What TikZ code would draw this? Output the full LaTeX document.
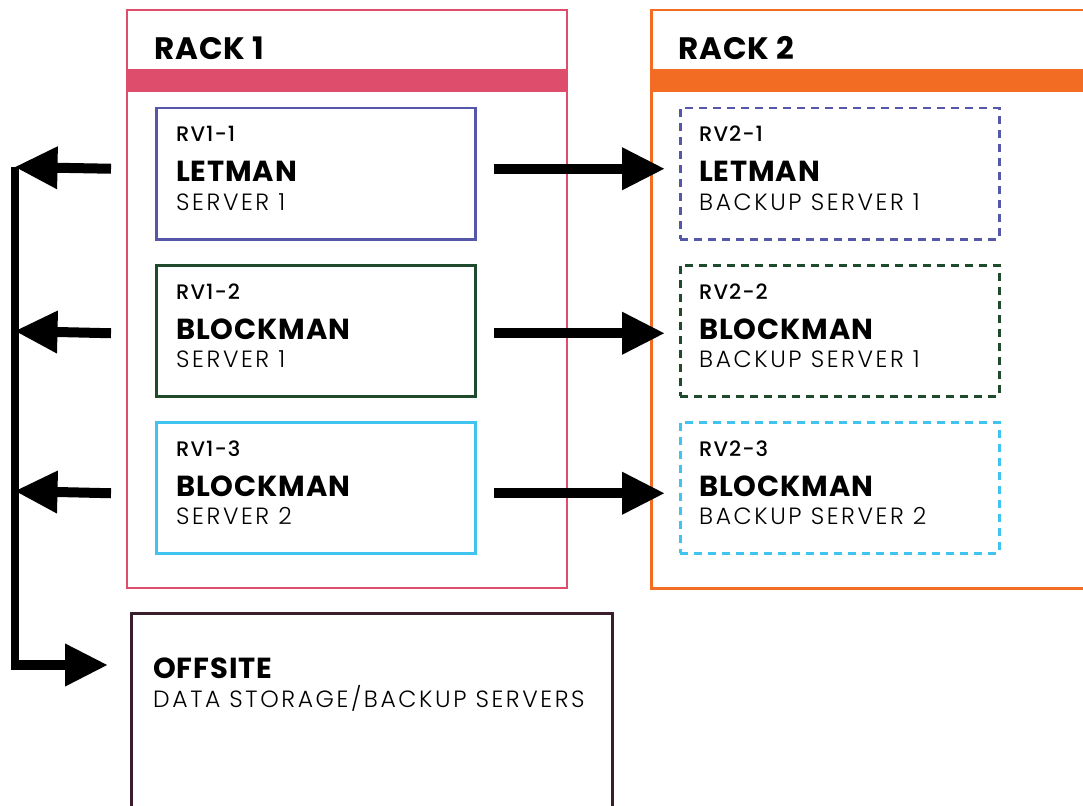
\documentclass[tikz,border=0pt]{standalone}
\usepackage{fontspec}
\setmainfont{Poppins}
\newfontfamily\boldf[LetterSpace=3]{Poppins Bold}
\newfontfamily\medf[LetterSpace=5]{Poppins Medium}
\newfontfamily\lightf[LetterSpace=11]{Poppins Light}
\usetikzlibrary{arrows.meta,calc}

\definecolor{rackpink}{HTML}{DE4D6C}
\definecolor{rackorange}{HTML}{F26C24}
\definecolor{srvblue}{HTML}{5558A8}
\definecolor{srvgreen}{HTML}{1F4A2B}
\definecolor{srvcyan}{HTML}{41C3EF}
\definecolor{offsitec}{HTML}{3A1E2E}

\tikzset{
  rackbox/.style={draw, line width=2.5pt, inner sep=0pt, anchor=north west},
  rackband/.style={fill, inner sep=0pt, anchor=north west, minimum height=23pt},
  srvbox/.style={draw, line width=2.5pt, inner sep=0pt, anchor=north west,
                 minimum width=319pt, minimum height=131pt},
  backupbox/.style={srvbox, dash pattern=on 8pt off 6pt},
  racktitle/.style={anchor=base west, inner sep=0pt, font=\boldf\fontsize{31}{31}\selectfont},
  idtext/.style={anchor=base west, inner sep=0pt, font=\medf\fontsize{21}{21}\selectfont},
  nametext/.style={anchor=base west, inner sep=0pt, font=\boldf\fontsize{29}{29}\selectfont},
  roletext/.style={anchor=base west, inner sep=0pt, font=\lightf\fontsize{23.5}{23.5}\selectfont},
  flow/.style={line width=10pt, -{Triangle[length=43pt,width=40pt]}},
  busline/.style={line width=8pt}
}

\begin{document}
\begin{tikzpicture}[x=1pt,y=-1pt]
\useasboundingbox (0,0) rectangle (1083,805);
\clip (0,0) rectangle (1083,805);
\fill[white] (0,0) rectangle (1083,805);

% racks
\node[rackbox, draw=rackpink, line width=2pt, minimum width=440pt, minimum height=578pt] (rack1) at (126,9) {};
\node[rackband, fill=rackpink, minimum width=440pt] (band1) at (126,69) {};
\node[racktitle] (rack1t) at (154,60) {RACK 1};

\node[rackbox, draw=rackorange, minimum width=480pt, minimum height=578pt] (rack2) at (650,9) {};
\node[rackband, fill=rackorange, minimum width=480pt] (band2) at (650,69) {};
\node[racktitle] (rack2t) at (678,60) {RACK 2};

% primary servers
\node[srvbox, draw=srvblue]  (s11) at (155,107) {};
\node[srvbox, draw=srvgreen] (s12) at (155,264) {};
\node[srvbox, draw=srvcyan]  (s13) at (155,421) {};

% backup servers
\node[backupbox, draw=srvblue]  (s21) at (679,107) {};
\node[backupbox, draw=srvgreen] (s22) at (679,264) {};
\node[backupbox, draw=srvcyan]  (s23) at (679,421) {};

% server labels
\node[idtext]   (s11a) at ($(s11.north west)+(21,35)$)  {RV1-1};
\node[nametext] (s11b) at ($(s11.north west)+(21,75)$)  {LETMAN};
\node[roletext] (s11c) at ($(s11.north west)+(21,103)$) {SERVER 1};

\node[idtext]   (s12a) at ($(s12.north west)+(21,35)$)  {RV1-2};
\node[nametext] (s12b) at ($(s12.north west)+(21,75)$)  {BLOCKMAN};
\node[roletext] (s12c) at ($(s12.north west)+(21,103)$) {SERVER 1};

\node[idtext]   (s13a) at ($(s13.north west)+(21,35)$)  {RV1-3};
\node[nametext] (s13b) at ($(s13.north west)+(21,75)$)  {BLOCKMAN};
\node[roletext] (s13c) at ($(s13.north west)+(21,103)$) {SERVER 2};

\node[idtext]   (s21a) at ($(s21.north west)+(20,35)$)  {RV2-1};
\node[nametext] (s21b) at ($(s21.north west)+(20,75)$)  {LETMAN};
\node[roletext] (s21c) at ($(s21.north west)+(20,103)$) {BACKUP SERVER 1};

\node[idtext]   (s22a) at ($(s22.north west)+(20,35)$)  {RV2-2};
\node[nametext] (s22b) at ($(s22.north west)+(20,75)$)  {BLOCKMAN};
\node[roletext] (s22c) at ($(s22.north west)+(20,103)$) {BACKUP SERVER 1};

\node[idtext]   (s23a) at ($(s23.north west)+(20,35)$)  {RV2-3};
\node[nametext] (s23b) at ($(s23.north west)+(20,75)$)  {BLOCKMAN};
\node[roletext] (s23c) at ($(s23.north west)+(20,103)$) {BACKUP SERVER 2};

% offsite storage
\node[rackbox, draw=offsitec, minimum width=481pt, minimum height=230pt] (off) at (130,612) {};
\node[nametext] (offa) at ($(off.north west)+(23,66)$) {OFFSITE};
\node[roletext] (offb) at ($(off.north west)+(23,95)$) {DATA STORAGE/BACKUP SERVERS};

% replication to rack 2
\draw[flow] ([xshift=17pt,yshift=5pt]s11.east)    -- ([xshift=-14pt,yshift=5pt]s21.west);
\draw[flow] ([xshift=17pt,yshift=-2.5pt]s12.east) -- ([xshift=-14pt,yshift=-2.5pt]s22.west);
\draw[flow] ([xshift=17pt,yshift=-5.5pt]s13.east) -- ([xshift=-14pt,yshift=-5.5pt]s23.west);

% bus to offsite
\coordinate (bus1) at (14.5,167);
\coordinate (bus2) at (14.5,331);
\coordinate (bus3) at (14.5,491);
\coordinate (bus4) at (14.5,665);
\coordinate (busend) at (14.5,670);
\coordinate (offin) at ([xshift=-22pt]off.west |- bus4);
\draw[busline] (bus1) -- (busend);
\draw[flow] ([xshift=-44pt,yshift=5pt]s11.west)    -- (bus1);
\draw[flow] ([xshift=-44pt,yshift=-2.5pt]s12.west) -- (bus2);
\draw[flow] ([xshift=-44pt,yshift=-5.5pt]s13.west) -- (bus3);
\draw[flow] (bus4) -- (offin);
\end{tikzpicture}
\end{document}
